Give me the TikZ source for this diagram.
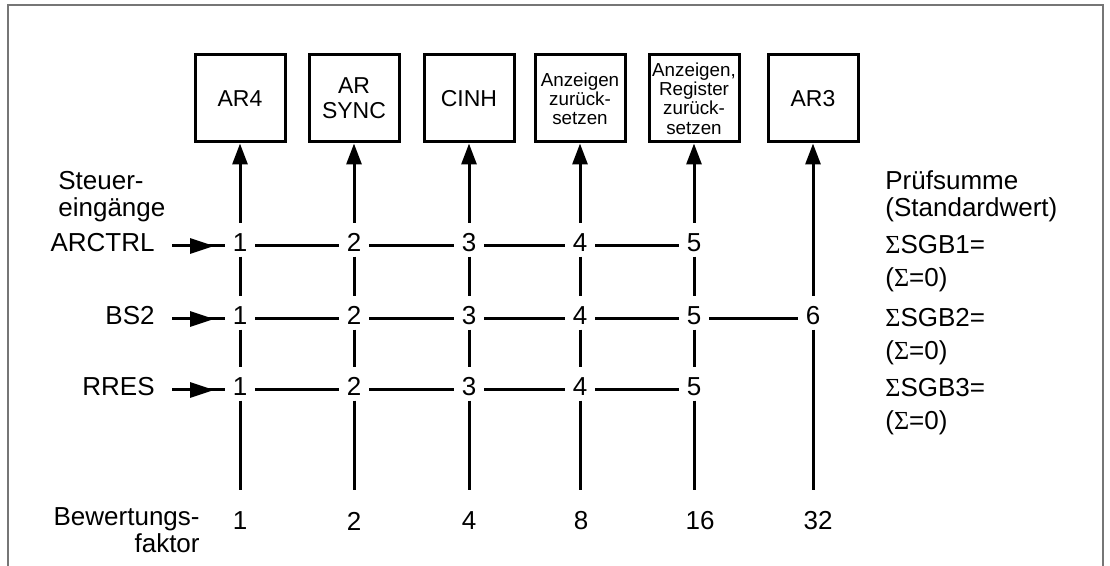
\documentclass[tikz,border=0pt]{standalone}
\usepackage{fontspec}
\setmainfont{Liberation Sans}
\newfontfamily\sigmafont{Liberation Serif}
\usetikzlibrary{positioning,arrows.meta,decorations.markings}
\definecolor{frameink}{RGB}{118,118,118}
\tikzset{
  ctrlbox/.style={draw,line width=1.5pt,minimum width=45pt,minimum height=43.5pt,inner sep=1pt,align=center,font=\fontsize{11.5}{12.5}\selectfont},
  smallbox/.style={ctrlbox,font=\fontsize{9.4}{9.6}\selectfont},
  bitnum/.style={inner xsep=0pt,inner ysep=0pt,minimum width=15pt,text height=14pt,text depth=2.5pt},
  wire/.style={line width=1.5pt},
  uparrow/.style={wire,-{Triangle[length=10.5pt,width=7.5pt]}},
  inarrow/.style={wire,postaction={decorate},decoration={markings,mark=at position 0.8 with {\arrow{Triangle[length=12pt,width=7.5pt]}}}},
}

\begin{document}
\begin{tikzpicture}[x=0.5pt,y=-0.5pt,font=\fontsize{13}{13.5}\selectfont]
\useasboundingbox (0,0) rectangle (1110,566);
\draw[frameink,line width=1pt] (8,566) -- (8,5) -- (1103,5) -- (1103,566);

% Bausteine oben
\node[ctrlbox] (b1) at (240,98.5) {AR4};
\node[ctrlbox] (b2) at (354,98.5) {AR\\SYNC};
\node[ctrlbox] (b3) at (469,98.5) {CINH};
\node[smallbox] (b4) at (580,98.5) {Anzeigen\\zurück-\\setzen};
\node[smallbox] (b5) at (694,98.5) {Anzeigen,\\Register\\zurück-\\setzen};
\node[ctrlbox] (b6) at (813,98.5) {AR3};

% Beschriftungen
\node[align=left,anchor=west,inner sep=0pt] (steuer) at (58,196.5) {Steuer-\\eingänge};
\node[align=left,anchor=west,inner sep=0pt] (pruef) at (885,196.5) {Prüfsumme\\(Standardwert)};
\node[align=right,anchor=east,inner sep=0pt] (bewert) at (200,530) {Bewertungs-\\faktor};

% Eingaenge und Bitnummern
\foreach \r/\y/\lab in {1/246/ARCTRL,2/319/BS2,3/390/RRES} {
  \node[anchor=mid east,inner xsep=8.5pt,inner ysep=0pt] (in\r) at (172,\y) {\lab};
  \foreach \c/\x in {1/240,2/354,3/469,4/580,5/694}
    \node[bitnum,anchor=mid] (n\r\c) at (\x,\y) {\c};
}
\node[bitnum,anchor=mid] (n26) at (813,319) {6};

% waagerechte Leitungen
\foreach \r in {1,2,3} {
  \draw[inarrow] (in\r.mid east) -- (n\r1.mid west);
  \foreach \c [evaluate=\c as \d using int(\c+1)] in {1,...,4}
    \draw[wire] (n\r\c.mid east) -- (n\r\d.mid west);
}
\draw[wire] (n25.mid east) -- (n26.mid west);

% senkrechte Leitungen
\foreach \c/\x in {1/240,2/354,3/469,4/580,5/694} {
  \coordinate (e\c) at (\x,490);
  \draw[uparrow] (n1\c.north) -- (b\c.south);
  \draw[wire] (n1\c.south) -- (n2\c.north);
  \draw[wire] (n2\c.south) -- (n3\c.north);
  \draw[wire] (n3\c.south) -- (e\c);
}
\coordinate (e6) at (813,490);
\draw[uparrow] (n26.north) -- (b6.south);
\draw[wire] (n26.south) -- (e6);

% Bewertungsfaktoren
\foreach \c/\x/\w in {1/240/1,2/354/2,3/469/4,4/581/8,5/700/16,6/818/32}
  \node (f\c) at (\x,521) {\w};

% Pruefsummen
\foreach \i/\y in {1/245,2/318,3/388} {
  \node[anchor=west,inner sep=0pt] (sum\i) at (885,\y) {{\sigmafont Σ}SGB\i=};
  \node[anchor=west,inner sep=0pt] (def\i) at (885,\y+35) {({\sigmafont Σ}=0)};
}
\end{tikzpicture}
\end{document}
